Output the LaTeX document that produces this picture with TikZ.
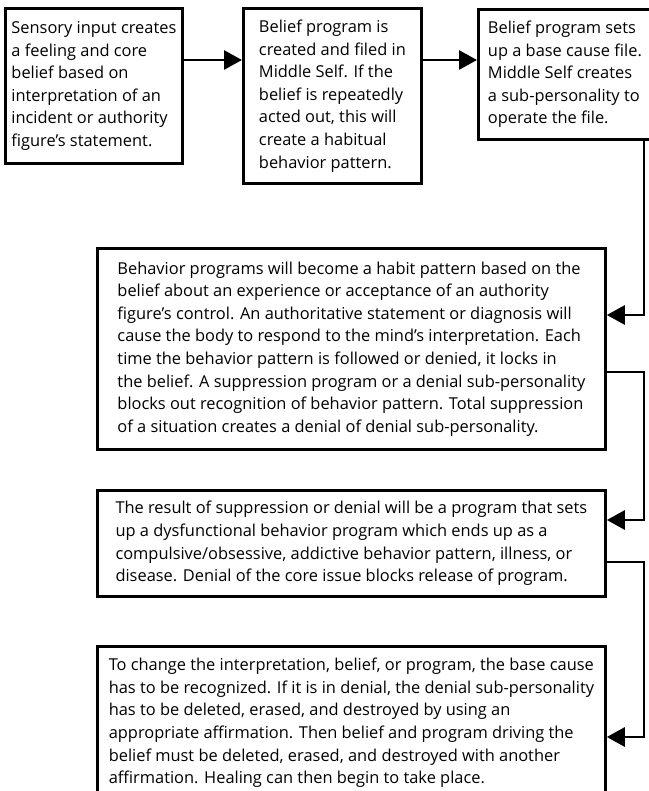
\documentclass[tikz,border=0pt]{standalone}
\usepackage{fontspec}
\setmainfont{Open Sans}
\usetikzlibrary{arrows.meta,positioning,calc}

\begin{document}
\begin{tikzpicture}[x=1pt, y=-1pt,
  font=\fontsize{16.4}{22.6}\selectfont,
  box/.style={draw, line width=2.8pt, anchor=north west, align=left, inner sep=0pt},
  arr/.style={-{Triangle[length=18pt,width=19pt]}, line width=2.8pt}]
  \useasboundingbox (0,0) rectangle (648,791);
  % --- top row ---
  \node[box, minimum width=177pt, minimum height=155pt] (sense) at (4,7)
    {Sensory input creates\\a feeling and core\\belief based on\\interpretation of an\\incident or authority\\figure's statement.};
  \node[box, minimum width=178pt, minimum height=175pt] (belief) at (242,7)
    {Belief program is\\created and filed in\\Middle Self. If the\\belief is repeatedly\\acted out, this will\\create a habitual\\behavior pattern.};
  \node[box, minimum width=173pt, minimum height=130pt] (basefile) at (477,8)
    {Belief program sets\\up a base cause file.\\Middle Self creates\\a sub-personality to\\operate the file.};
  % --- stacked boxes ---
  \node[box, minimum width=508pt, minimum height=201pt] (habit) at (96,247)
    {Behavior programs will become a habit pattern based on the\\belief about an experience or acceptance of an authority\\figure's control. An authoritative statement or diagnosis will\\cause the body to respond to the mind's interpretation. Each\\time the behavior pattern is followed or denied, it locks in\\the belief. A suppression program or a denial sub-personality\\blocks out recognition of behavior pattern. Total suppression\\of a situation creates a denial of denial sub-personality.};
  \node[box, minimum width=508pt, minimum height=106pt] (result) at (96,489)
    {The result of suppression or denial will be a program that sets\\up a dysfunctional behavior program which ends up as a\\compulsive/obsessive, addictive behavior pattern, illness, or\\disease. Denial of the core issue blocks release of program.};
  \node[box, minimum width=508pt, minimum height=153pt] (change) at (96,645)
    {To change the interpretation, belief, or program, the base cause\\has to be recognized. If it is in denial, the denial sub-personality\\has to be deleted, erased, and destroyed by using an\\appropriate affirmation. Then belief and program driving the\\belief must be deleted, erased, and destroyed with another\\affirmation. Healing can then begin to take place.};
  % --- rail and rows ---
  \coordinate (rail) at (644,0);
  \coordinate (r1)   at (0,60);
  \coordinate (in4)  at (0,315);
  \coordinate (out4) at (0,372);
  \coordinate (in5)  at (0,520);
  \coordinate (out5) at (0,562);
  \coordinate (in6)  at (0,737);
  \draw[arr] (sense.east |- r1) -- (belief.west |- r1);
  \draw[arr] (belief.east |- r1) -- (basefile.west |- r1);
  \draw[arr] (basefile.south -| rail) |- (habit.east |- in4);
  \draw[arr] (habit.east |- out4) -| (rail |- in5) -- (result.east |- in5);
  \draw[arr] (result.east |- out5) -| (rail |- in6) -- (change.east |- in6);
\end{tikzpicture}
\end{document}
